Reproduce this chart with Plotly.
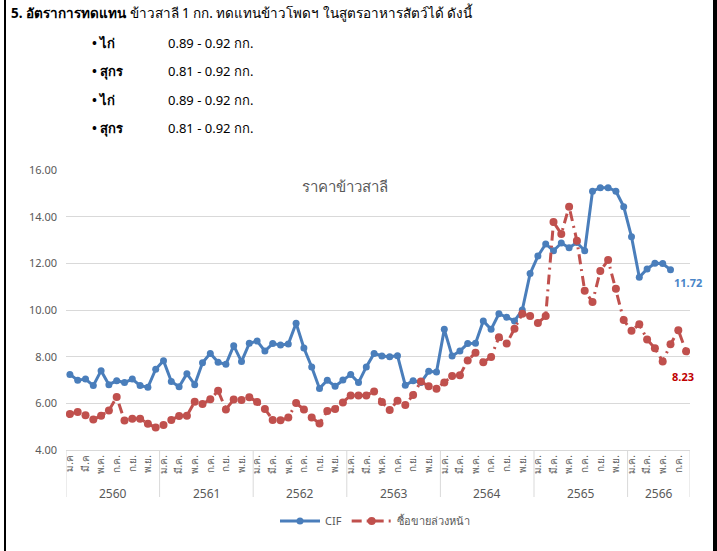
import plotly.graph_objects as go

# ---------------- data ----------------
years = [2560, 2561, 2562, 2563, 2564, 2565, 2566]
months_per_year = [12, 12, 12, 12, 12, 12, 8]
month_names = ["ม.ค.", "ก.พ.", "มี.ค.", "เม.ย.", "พ.ค.", "มิ.ย.",
               "ก.ค.", "ส.ค.", "ก.ย.", "ต.ค.", "พ.ย.", "ธ.ค."]

cif = [7.24, 6.99, 7.04, 6.76, 7.40, 6.80, 6.97, 6.89, 7.04, 6.76, 6.69, 7.46,
       7.83, 6.94, 6.71, 7.27, 6.80, 7.74, 8.14, 7.76, 7.67, 8.47, 7.79, 8.57,
       8.67, 8.24, 8.56, 8.50, 8.54, 9.43, 8.37, 7.56, 6.64, 6.99, 6.73, 7.00,
       7.24, 6.89, 7.56, 8.14, 8.03, 8.00, 8.04, 6.77, 6.97, 6.89, 7.37, 7.34,
       9.17, 8.03, 8.24, 8.56, 8.57, 9.53, 9.17, 9.84, 9.69, 9.53, 10.00, 11.56,
       12.31, 12.83, 12.54, 12.87, 12.67, 12.89, 12.54, 15.09, 15.24, 15.24, 15.09, 14.43,
       13.14, 11.40, 11.76, 12.00, 11.99, 11.72]

futures = [5.54, 5.63, 5.49, 5.31, 5.47, 5.69, 6.27, 5.26, 5.34, 5.34, 5.13, 4.96,
           5.07, 5.29, 5.46, 5.47, 6.07, 5.97, 6.17, 6.54, 5.74, 6.16, 6.14, 6.26,
           6.06, 5.76, 5.29, 5.27, 5.39, 6.01, 5.74, 5.39, 5.14, 5.67, 5.76, 6.04,
           6.34, 6.34, 6.34, 6.51, 6.06, 5.71, 6.11, 5.93, 6.36, 6.94, 6.73, 6.63,
           6.89, 7.17, 7.20, 7.84, 8.17, 7.76, 7.99, 8.83, 8.56, 9.20, 9.84, 9.74,
           9.44, 9.74, 13.77, 13.26, 14.43, 12.97, 10.83, 10.34, 11.67, 12.14, 10.91, 9.57,
           9.11, 9.39, 8.74, 8.36, 7.79, 8.53, 9.13, 8.23]

y_ticks = [4, 6, 8, 10, 12, 14, 16]
series_names = ["CIF", "ซื้อขายล่วงหน้า"]
chart_title = "ราคาข้าวสาลี"

header_line = "<b>5. อัตราการทดแทน</b> ข้าวสาลี 1 กก. ทดแทนข้าวโพดฯ ในสูตรอาหารสัตว์ได้ ดังนี้"
bullet_items = ["ไก่", "สุกร", "ไก่", "สุกร"]
bullet_values = ["0.89 - 0.92 กก.", "0.81 - 0.92 กก.", "0.89 - 0.92 กก.", "0.81 - 0.92 กก."]

# ---------------- derived ----------------
cat_labels = []
for y, n in zip(years, months_per_year):
    cat_labels += month_names[:n]
cat_labels[0] = "ม.ค"
cat_labels[2] = "มี.ค"
n_cat = len(cat_labels)
xs = list(range(n_cat))

W, H = 717, 551
L, R, T, B = 66, 690, 170, 450


def px(xp):
    return (xp - L) / (R - L)


def py(yp):
    return (B - yp) / (B - T)


BLUE = "#4A7EBB"
RED = "#C0504D"
GREY = "#595959"
FONT = "Noto Sans, DejaVu Sans, sans-serif"

fig = go.Figure()
fig.add_trace(go.Scatter(
    x=xs[:len(cif)], y=cif, name=series_names[0], mode="lines+markers",
    line=dict(color=BLUE, width=3), marker=dict(color=BLUE, size=7)))
fig.add_trace(go.Scatter(
    x=xs[:len(futures)], y=futures, name=series_names[1], mode="lines+markers",
    line=dict(color=RED, width=3, dash="10px,5px,2px,5px"),
    marker=dict(color=RED, size=8)))

# year dividers & labels
shapes = []
annotations = []
start = 0
bounds = [-0.5]
for y, n in zip(years, months_per_year):
    annotations.append(dict(x=start + (n - 1) / 2, y=py(493), xref="x", yref="paper",
                            yanchor="middle", text=str(y), showarrow=False,
                            font=dict(size=12, color=GREY, family=FONT)))
    start += n
    bounds.append(start - 0.5)
for b in bounds:
    shapes.append(dict(type="line", xref="x", yref="paper", x0=b, x1=b,
                       y0=0, y1=py(497), line=dict(color="#D9D9D9", width=1)))

# end-value labels
annotations.append(dict(x=len(cif) - 1, y=cif[-1], xref="x", yref="y",
                        text="<b>%.2f</b>" % cif[-1], showarrow=False,
                        xshift=17, yshift=-13,
                        font=dict(size=11, color="#4A86C8", family=FONT)))
annotations.append(dict(x=len(futures) - 1, y=futures[-1], xref="x", yref="y",
                        text="<b>%.2f</b>" % futures[-1], showarrow=False,
                        xshift=-3, yshift=-25,
                        font=dict(size=11, color="#C00000", family=FONT)))

# chart title
annotations.append(dict(x=px(345), y=py(186), xref="paper", yref="paper",
                        yanchor="middle", text=chart_title, showarrow=False,
                        font=dict(size=15, color=GREY, family=FONT)))

# header text
annotations.append(dict(x=px(9), y=py(12), xref="paper", yref="paper",
                        xanchor="left", yanchor="middle", text=header_line,
                        showarrow=False, font=dict(size=13.5, color="#000000", family=FONT)))
row_y = [43, 71, 100, 128]
for item, val, ry in zip(bullet_items, bullet_values, row_y):
    annotations.append(dict(x=px(90), y=py(ry), xref="paper", yref="paper",
                            xanchor="left", yanchor="middle", text="<b>• " + item + "</b>",
                            showarrow=False, font=dict(size=13, color="#000000", family=FONT)))
    annotations.append(dict(x=px(166), y=py(ry), xref="paper", yref="paper",
                            xanchor="left", yanchor="middle", text=val,
                            showarrow=False, font=dict(size=13, color="#000000", family=FONT)))

# page borders
shapes.append(dict(type="line", xref="paper", yref="paper", x0=px(5), x1=px(5),
                   y0=py(0), y1=py(551), line=dict(color="#000000", width=2)))
shapes.append(dict(type="line", xref="paper", yref="paper", x0=px(715), x1=px(715),
                   y0=py(0), y1=py(551), line=dict(color="#000000", width=4)))

tick_vals = [i for i in xs if i % 2 == 0]
fig.update_layout(
    width=W, height=H,
    margin=dict(l=L, r=W - R, t=T, b=H - B, autoexpand=False),
    paper_bgcolor="white", plot_bgcolor="white",
    font=dict(family=FONT, color=GREY),
    showlegend=True,
    legend=dict(orientation="h", x=px(375), y=py(521), xanchor="center", yanchor="middle",
                font=dict(size=11, color=GREY, family=FONT), itemwidth=40),
    shapes=shapes, annotations=annotations,
    xaxis=dict(range=[-0.5, n_cat - 0.5], tickmode="array",
               tickvals=tick_vals, ticktext=[cat_labels[i] for i in tick_vals],
               tickangle=-90, tickfont=dict(size=10, color=GREY, family=FONT),
               showgrid=False, zeroline=False, showline=True, linecolor="#D9D9D9",
               ticks="", fixedrange=True, automargin=False),
    yaxis=dict(range=[4, 16], tickvals=y_ticks, tickformat=".2f",
               tickfont=dict(size=11, color=GREY, family=FONT),
               showgrid=True, gridcolor="#D9D9D9", gridwidth=1,
               zeroline=False, showline=False, ticks="", ticklabelstandoff=8,
               automargin=False),
)

fig.write_html("out.html", config={"displayModeBar": False},
               post_script="document.body.style.margin='0';document.body.style.overflow='hidden';")
